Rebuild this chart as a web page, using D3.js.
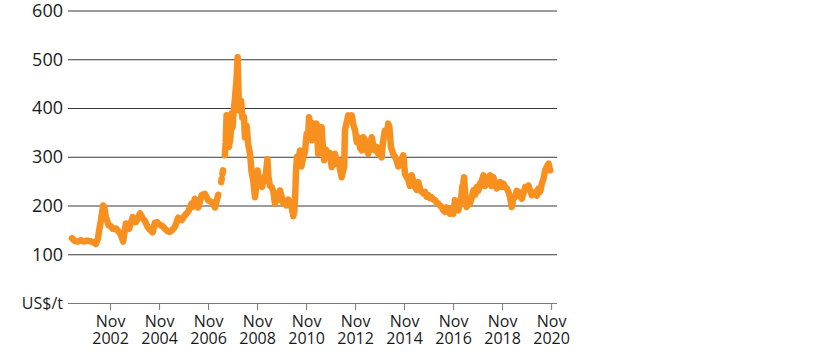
<!DOCTYPE html>
<html>
<head>
<meta charset="utf-8">
<script src="https://cdn.jsdelivr.net/npm/d3@7/dist/d3.min.js"></script>
<style>
  html, body { margin: 0; padding: 0; background: #fff; }
  svg { display: block; }
  text { font-family: 'Open Sans', 'Noto Sans', sans-serif; font-weight: 400; fill: #1a1a1a; }
</style>
</head>
<body>
<svg id="chart" width="816" height="357"></svg>
<script>
// ---- Data (US$/t) ----
const dates = [
  "2001-04-12","2001-05-26","2001-07-10","2001-08-24","2001-10-08","2001-11-22","2002-01-06","2002-02-21",
  "2002-04-04","2002-05-04","2002-05-23","2002-06-18","2002-07-22","2002-08-09","2002-09-01","2002-10-12",
  "2002-11-09","2002-12-10","2003-01-28","2003-03-12","2003-04-12","2003-05-15","2003-06-25","2003-08-10",
  "2003-10-04","2003-11-22","2004-01-21","2004-03-01","2004-04-04","2004-05-14","2004-06-18","2004-07-28",
  "2004-09-01","2004-10-01","2004-11-15","2004-12-29","2005-01-28","2005-02-28","2005-04-12","2005-05-18",
  "2005-06-25","2005-08-14","2005-10-03","2005-11-21","2006-01-12","2006-03-01","2006-03-28","2006-04-18",
  "2006-06-08","2006-07-28","2006-09-15","2006-11-05","2006-12-24","2007-02-13","2007-04-01","2007-04-20",
  "2007-05-15","2007-05-24","2007-05-30","2007-06-04","2007-06-12","2007-06-25",
  "2007-07-10","2007-07-22","2007-08-04","2007-08-19","2007-09-07","2007-10-01","2007-10-19","2007-11-01",
  "2007-11-13","2007-12-07","2008-01-02","2008-01-16","2008-02-06","2008-02-19","2008-03-07","2008-03-27",
  "2008-04-19","2008-05-04","2008-05-28","2008-06-22","2008-07-18","2008-08-10","2008-09-06","2008-10-01",
  "2008-10-24","2008-11-09","2008-12-01","2008-12-22","2009-01-14","2009-02-06","2009-02-28","2009-03-20",
  "2009-04-04","2009-04-19","2009-05-12","2009-06-07","2009-07-03","2009-07-25","2009-08-18","2009-09-13",
  "2009-10-09","2009-11-03","2009-11-28","2009-12-22","2010-01-14","2010-02-10","2010-03-06","2010-04-01",
  "2010-04-25","2010-05-12","2010-05-25","2010-06-04","2010-06-19","2010-07-08","2010-08-03","2010-08-25",
  "2010-09-21","2010-10-16","2010-11-10","2010-12-01","2010-12-15","2011-01-07","2011-01-25","2011-02-18",
  "2011-03-13","2011-04-08","2011-05-01","2011-05-26","2011-06-21","2011-07-10","2011-07-29","2011-08-24",
  "2011-09-28","2011-10-24","2011-11-18","2011-12-12","2012-01-07","2012-02-01","2012-02-25","2012-03-20",
  "2012-04-15","2012-05-04","2012-05-23","2012-06-03","2012-06-25","2012-07-21","2012-08-16","2012-09-12",
  "2012-10-06","2012-11-01","2012-11-26","2012-12-20","2013-01-15","2013-02-09","2013-03-04","2013-03-28",
  "2013-04-22","2013-05-16","2013-06-11","2013-07-06","2013-07-29","2013-08-23","2013-09-18","2013-10-12",
  "2013-11-06","2013-12-02","2013-12-21","2014-01-20","2014-02-15","2014-03-10","2014-03-28","2014-04-19",
  "2014-05-22","2014-06-17","2014-07-12","2014-08-06","2014-09-01","2014-09-26","2014-10-20","2014-11-15",
  "2014-12-10","2015-01-04","2015-01-29","2015-02-23","2015-03-19","2015-04-13","2015-05-08","2015-06-01",
  "2015-06-26","2015-07-21","2015-08-15","2015-09-09","2015-10-04","2015-10-28","2015-11-22","2015-12-17",
  "2016-01-11","2016-02-05","2016-03-01","2016-03-25","2016-04-19","2016-05-14","2016-06-08","2016-07-03",
  "2016-07-28","2016-08-21","2016-09-15","2016-10-10","2016-11-04","2016-11-29","2016-12-24","2017-01-18",
  "2017-02-12","2017-03-05","2017-03-17","2017-04-01","2017-04-14","2017-04-27","2017-05-22","2017-06-16",
  "2017-07-11","2017-08-05","2017-08-30","2017-09-24","2017-10-19","2017-11-13","2017-12-08","2018-01-02",
  "2018-01-27","2018-02-21","2018-03-17","2018-04-11","2018-05-06","2018-05-31","2018-06-25","2018-07-20",
  "2018-08-14","2018-09-07","2018-10-02","2018-10-27","2018-11-21","2018-12-16","2019-01-10","2019-02-04",
  "2019-03-01","2019-03-25","2019-04-19","2019-05-14","2019-06-08","2019-07-03","2019-07-28","2019-08-22",
  "2019-09-16","2019-10-11","2019-11-05","2019-11-30","2019-12-25","2020-01-19","2020-02-12","2020-03-08",
  "2020-04-02","2020-04-27","2020-05-22","2020-06-16","2020-07-11","2020-08-05","2020-08-30","2020-09-24",
  "2020-10-18"
];
const prices = [
  133,127,126,129,126,128,127,125,
  121,132,149,170,200,195,176,159,
  158,152,153,146,140,126,163,152,
  176,166,184,174,168,156,150,145,
  165,166,160,157,152,148,146,150,
  156,175,170,180,188,204,198,214,
  196,221,224,210,207,196,222,null,
  248,255,null,265,272,null,
  303,330,385,345,320,340,389,360,
  385,420,463,504,395,402,415,380,
  382,340,364,325,307,270,250,217,
  245,272,240,250,238,258,250,275,
  295,258,240,238,228,204,215,211,
  231,217,204,210,200,212,200,197,
  178,190,230,270,300,293,313,280,
  299,310,347,335,381,365,334,368,
  340,368,306,330,361,320,293,315,
  300,308,279,300,306,285,293,275,
  258,270,279,355,368,385,378,385,
  365,354,330,340,318,313,340,334,
  315,306,320,340,325,313,320,306,
  303,299,330,354,345,368,360,320,
  306,300,293,280,286,292,303,265,
  258,252,240,262,250,238,232,248,
  235,228,225,228,218,221,215,217,
  212,211,206,204,200,197,190,187,
  196,194,183,190,183,211,200,190,
  205,220,238,245,258,230,197,205,
  204,215,231,222,238,230,245,250,
  262,240,245,255,262,240,258,245,
  235,240,248,238,245,238,235,228,
  217,197,215,217,230,228,220,214,
  225,238,235,241,230,221,225,228,
  220,235,228,245,255,272,280,286,
  272
];
const yTicks = [0, 100, 200, 300, 400, 500, 600];
const yUnit = "US$/t";
const tickMonth = "Nov";
const tickYears = [2002, 2004, 2006, 2008, 2010, 2012, 2014, 2016, 2018, 2020];

// ---- Layout ----
const svg = d3.select("#chart");
const parse = d3.timeParse("%Y-%m-%d");
const data = dates.map((d, i) => ({ date: parse(d), value: prices[i] }));

const x = d3.scaleTime()
  .domain([new Date(2001, 1, 12), new Date(2021, 0, 28)])
  .range([68, 557]);
const y = d3.scaleLinear().domain([0, 600]).range([303, 10.5]);

// Y axis with gridlines
const yAxis = d3.axisLeft(y)
  .tickValues(yTicks)
  .tickSize(-(557 - 68))
  .tickPadding(5)
  .tickFormat(d => d === 0 ? yUnit : d);
const gy = svg.append("g").attr("transform", "translate(68,0)").call(yAxis);
gy.select(".domain").remove();
gy.selectAll(".tick line")
  .attr("stroke", d => d === 0 ? "#7a7a7a" : "#3a3a3a")
  .attr("stroke-width", 1);
gy.selectAll(".tick text")
  .style("font-size", d => d === 0 ? "16px" : "18px")
  .attr("fill", "#1a1a1a");

// X axis ticks
const tickDates = tickYears.map(yr => new Date(yr, 10, 1));
const xAxis = d3.axisBottom(x).tickValues(tickDates).tickSize(7).tickFormat("");
const gx = svg.append("g").attr("transform", `translate(0,${y(0)})`).call(xAxis);
gx.select(".domain").remove();
gx.selectAll(".tick line").attr("stroke", "#7a7a7a");
gx.selectAll(".tick").each(function(d) {
  const g = d3.select(this);
  g.append("text")
    .attr("text-anchor", "middle").attr("x", 0).attr("y", 24)
    .style("font-size", "16px").attr("fill", "#1a1a1a")
    .text(tickMonth);
  g.append("text")
    .attr("text-anchor", "middle").attr("x", 0).attr("y", 40.5)
    .style("font-size", "16px").attr("fill", "#1a1a1a")
    .text(d.getFullYear());
});

// Price line
const line = d3.line()
  .defined(d => d.value !== null)
  .x(d => x(d.date))
  .y(d => y(d.value))
  .curve(d3.curveLinear);
svg.append("path")
  .datum(data)
  .attr("fill", "none")
  .attr("stroke", "#F7901E")
  .attr("stroke-width", 6.5)
  .attr("stroke-linejoin", "round")
  .attr("stroke-linecap", "round")
  .attr("d", line);
</script>
</body>
</html>
